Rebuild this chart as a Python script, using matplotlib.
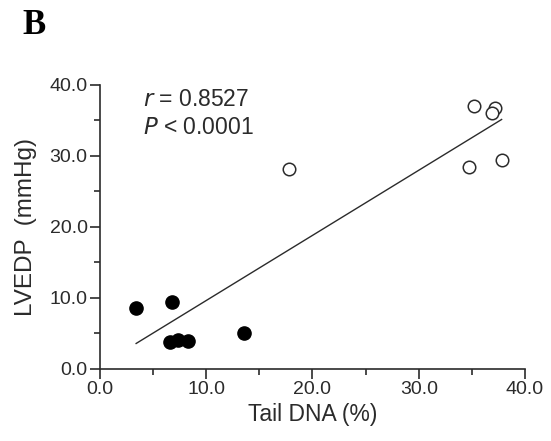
import numpy as np
import matplotlib
matplotlib.use("Agg")
from matplotlib import pyplot as plt
from matplotlib.ticker import MultipleLocator, FormatStrFormatter

plt.rcParams['font.family'] = ['Liberation Sans', 'DejaVu Sans']

# filled circles (control group)
ctrl_x = [3.4, 6.75, 6.6, 7.3, 8.3, 13.55]
ctrl_y = [8.6, 9.4, 3.85, 4.1, 4.0, 5.1]
# open circles
treat_x = [17.8, 35.2, 37.2, 36.9, 34.7, 37.8]
treat_y = [28.2, 37.0, 36.8, 36.0, 28.4, 29.4]

fit_x = [3.4, 37.8]

all_x = np.array(ctrl_x + treat_x)
all_y = np.array(ctrl_y + treat_y)
slope, intercept = np.polyfit(all_x, all_y, 1)

ink = "#2b2b2b"

fig = plt.figure(figsize=(5.51, 4.41), dpi=100)
ax = fig.add_axes([0.1815, 0.1633, 0.7713, 0.644])

ax.plot(fit_x, [slope * v + intercept for v in fit_x], color=ink, lw=1.0)
ax.plot(ctrl_x, ctrl_y, "o", color="black", ms=9.5, mec="black")
ax.plot(treat_x, treat_y, "o", mfc="white", mec=ink, ms=9, mew=1.1)

ax.set_xlim(0, 40)
ax.set_ylim(0, 40)
ax.spines["top"].set_visible(False)
ax.spines["right"].set_visible(False)
for s in ("left", "bottom"):
    ax.spines[s].set_color(ink)
    ax.spines[s].set_linewidth(1.2)

ax.xaxis.set_major_locator(MultipleLocator(10))
ax.xaxis.set_minor_locator(MultipleLocator(5))
ax.yaxis.set_major_locator(MultipleLocator(10))
ax.yaxis.set_minor_locator(MultipleLocator(5))
ax.xaxis.set_major_formatter(FormatStrFormatter("%.1f"))
ax.yaxis.set_major_formatter(FormatStrFormatter("%.1f"))
ax.tick_params(which="major", length=7, width=1.2, color=ink, labelsize=14,
               labelcolor=ink, pad=2)
ax.tick_params(which="minor", length=4, width=1.2, color=ink)

ax.set_xlabel("Tail DNA (%)", fontsize=16.5, color=ink, labelpad=3)
ax.set_ylabel("LVEDP  (mmHg)", fontsize=17.5, color=ink, labelpad=9)

ax.text(0.101, 0.926, "$\\it{r}$ = 0.8527", transform=ax.transAxes,
        fontsize=16.5, color=ink, va="baseline", ha="left")
ax.text(0.101, 0.8275, "$\\it{P}$ < 0.0001", transform=ax.transAxes,
        fontsize=16.5, color=ink, va="baseline", ha="left")

fig.text(0.04, 0.98, "B", fontsize=25, fontweight="bold",
         family=["Liberation Serif", "DejaVu Serif"], va="top", ha="left")

fig.savefig("out.png", dpi=100)
